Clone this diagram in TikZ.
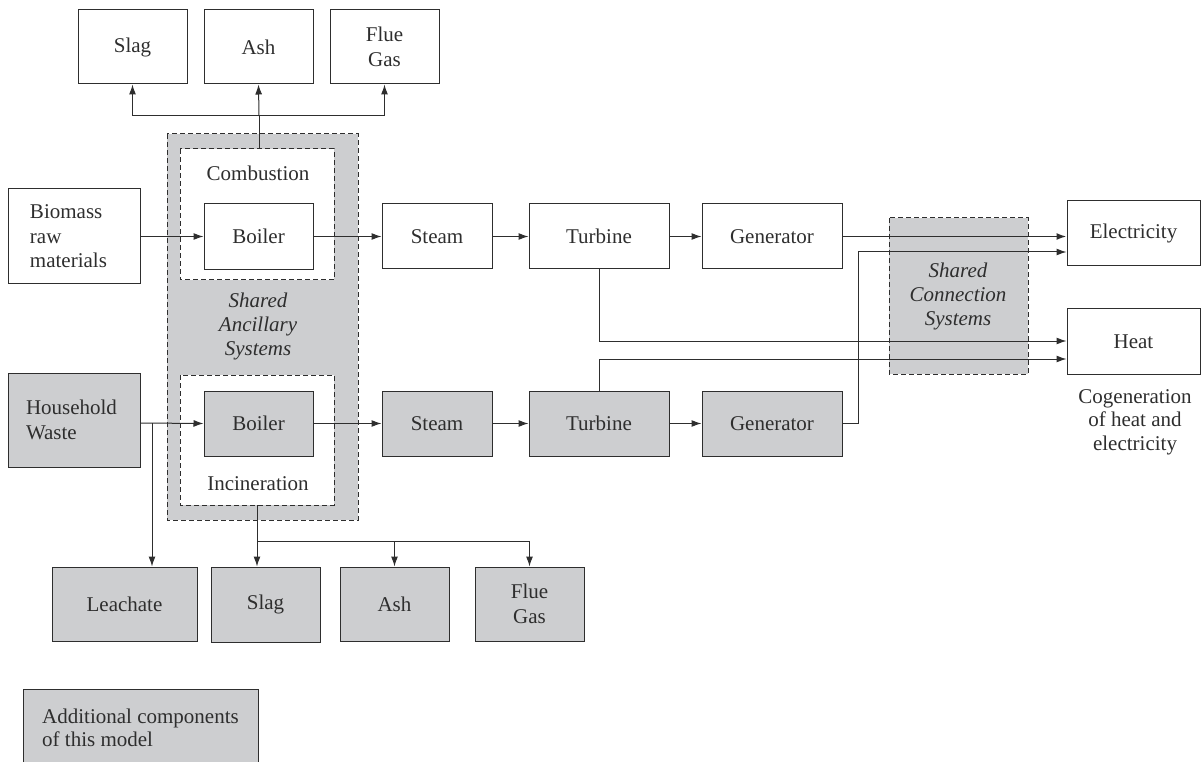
\documentclass[tikz,border=0pt]{standalone}
\usepackage{fontspec}
\setmainfont{Liberation Serif}
\usetikzlibrary{arrows.meta}
\definecolor{fillg}{HTML}{CDCED0}
\definecolor{ink}{HTML}{2E2E2E}
\tikzset{
  box/.style={draw=ink, line width=1pt, inner sep=0pt, align=center, text=ink, font=\fontsize{21}{24.5}\selectfont},
  gbox/.style={box, fill=fillg},
  dbox/.style={draw=ink, line width=1pt, dash pattern=on 5pt off 3pt},
  conn/.style={draw=ink, line width=1pt},
  arr/.style={conn, -{Latex[length=10pt,width=7pt]}},
  lbl/.style={text=ink, font=\fontsize{21}{23.5}\selectfont, inner sep=0pt, align=center},
  ilbl/.style={lbl, font=\fontsize{21}{24}\itshape\selectfont}
}
\begin{document}
\begin{tikzpicture}[x=1pt,y=-1pt]
\useasboundingbox (0,0) rectangle (1203,762);
% shared boxes
\draw[dbox, fill=fillg] (167,134) rectangle (358,520);
\draw[dbox, fill=white] (180,149) rectangle (334,280);
\draw[dbox, fill=white] (180,375) rectangle (334,505);
\draw[dbox, fill=fillg] (889,218) rectangle (1028,374);
\node[lbl] (comb) at (258,173) {Combustion};
\node[lbl] (incin) at (258,484) {Incineration};
\node[ilbl] (sas) at (258,326) {Shared\\Ancillary\\Systems};
\node[ilbl] (scs) at (958,296) {Shared\\Connection\\Systems};
% top row outputs
\node[box, minimum width=109, minimum height=74] (slagT) at (132.5,47) {Slag};
\node[box, minimum width=109, minimum height=74] (ashT) at (258.5,47) {Ash};
\node[box, minimum width=109, minimum height=74] (flueT) at (384.5,47) {Flue\\Gas};
% top chain
\node[box, minimum width=132, minimum height=95, align=left, text width=88] (bio) at (74,236.5) {Biomass\\raw\\materials};
\node[box, minimum width=109, minimum height=66] (boilerT) at (258.5,236.5) {Boiler};
\node[box, minimum width=110, minimum height=65] (steamT) at (437,236.5) {Steam};
\node[box, minimum width=140, minimum height=65] (turbT) at (599,236.5) {Turbine};
\node[box, minimum width=140, minimum height=65] (genT) at (772,236.5) {Generator};
\node[box, minimum width=133, minimum height=65] (elec) at (1133.5,233.5) {Electricity};
\node[box, minimum width=133, minimum height=65] (heat) at (1133.5,341.5) {Heat};
\node[lbl] (cogen) at (1135,422) {Cogeneration\\of heat and\\electricity};
% bottom chain
\node[gbox, minimum width=132, minimum height=94, align=left, text width=96] (hw) at (74,420) {Household\\Waste};
\node[gbox, minimum width=109, minimum height=65] (boilerB) at (258.5,423.5) {Boiler};
\node[gbox, minimum width=110, minimum height=65] (steamB) at (437,423.5) {Steam};
\node[gbox, minimum width=140, minimum height=65] (turbB) at (599,423.5) {Turbine};
\node[gbox, minimum width=140, minimum height=65] (genB) at (772,423.5) {Generator};
% bottom outputs
\node[gbox, minimum width=145, minimum height=74] (leach) at (124.5,604) {Leachate};
\node[gbox, minimum width=109, minimum height=75] (slagB) at (265.5,604.5) {Slag};
\node[gbox, minimum width=109, minimum height=74] (ashB) at (394.5,604) {Ash};
\node[gbox, minimum width=109, minimum height=74] (flueB) at (529.5,604) {Flue\\Gas};
% legend
\node[gbox, minimum width=235, minimum height=80, anchor=north west] (legend) at (23,689) {};
\node[lbl, align=left, anchor=west] (legtxt) at (42,728) {Additional components\\of this model};
% coordinates
\coordinate (tbus) at (259,116);
\coordinate (combtop) at (259,149);
\coordinate (incbot) at (257,505);
\coordinate (bbus) at (257,541);
\coordinate (leachx) at (152,423);
\coordinate (e2) at (858,252);
\coordinate (h1) at (599,341);
\coordinate (h2) at (599,359);
% top connectors
\draw[conn] (combtop) -- (tbus);
\draw[arr] (tbus) -- (ashT.south);
\draw[arr] (slagT.south |- tbus) -- (slagT.south);
\draw[arr] (flueT.south |- tbus) -- (flueT.south);
\draw[conn] (slagT.south |- tbus) -- (flueT.south |- tbus);
\draw[arr] (bio.east) -- (boilerT.west);
\draw[arr] (boilerT.east) -- (steamT.west);
\draw[arr] (steamT.east) -- (turbT.west);
\draw[arr] (turbT.east) -- (genT.west);
\draw[arr, line width=1.6pt] (genT.east) -- (genT.east -| elec.west);
\draw[arr] (genB.east) -| (e2) -- (e2 -| elec.west);
\draw[arr] (turbT.south) -- (h1) -- (h1 -| heat.west);
\draw[arr] (turbB.north) -- (h2) -- (h2 -| heat.west);
% bottom connectors
\draw[arr] (leachx -| hw.east) -- (boilerB.west);
\draw[arr] (leachx) -- (leachx |- leach.north);
\draw[arr] (boilerB.east) -- (steamB.west);
\draw[arr] (steamB.east) -- (turbB.west);
\draw[arr] (turbB.east) -- (genB.west);
\draw[arr] (incbot) -- (bbus |- slagB.north);
\draw[conn] (bbus) -- (bbus -| flueB.north);
\draw[arr] (bbus -| ashB.north) -- (ashB.north);
\draw[arr] (bbus -| flueB.north) -- (flueB.north);
\end{tikzpicture}
\end{document}
